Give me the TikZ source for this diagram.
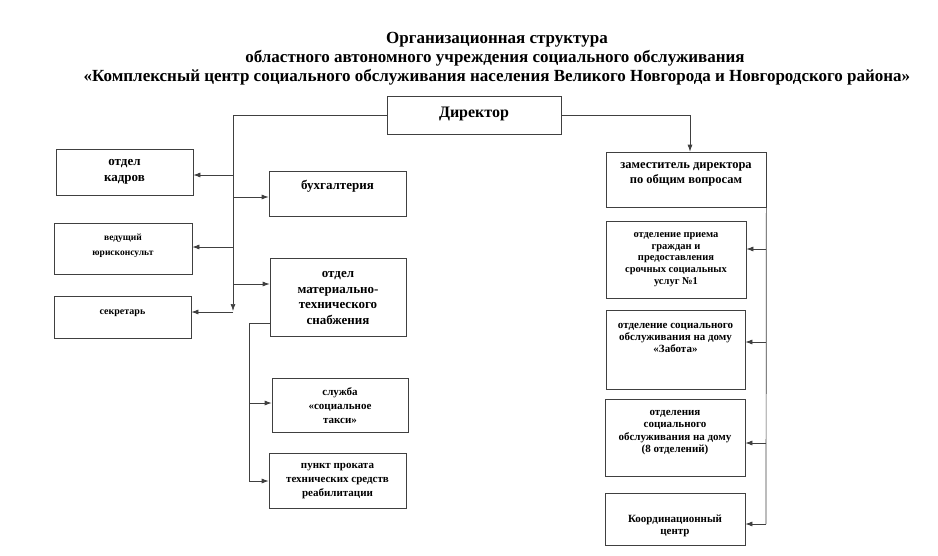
\documentclass[tikz,border=0pt]{standalone}
\usepackage{fontspec}
\setmainfont{Liberation Serif}
\usepackage{tikz}
\usetikzlibrary{calc,arrows.meta}
\tikzset{
    box/.style 2 args={draw=black!75,line width=0.7pt,minimum width=#1pt,minimum height=#2pt,inner sep=0pt},
    ttl/.style={font=\fontsize{17}{20}\selectfont\bfseries},
    big/.style={align=center,font=\fontsize{13}{15.5}\selectfont\bfseries},
    mid/.style={align=center,font=\fontsize{11}{14}\selectfont\bfseries},
    sml/.style={align=center,font=\fontsize{10}{12}\selectfont\bfseries},
    link/.style={draw=black!75,line width=0.7pt},
    arr/.style={link,-{Latex[length=7pt,width=5pt]}}
}

\begin{document}
\begin{tikzpicture}[x=1pt,y=-1pt]
        \useasboundingbox (0,0) rectangle (938,555);

        %%% TITLE %%%
        \node[ttl] (ttla) at (497,40) {Организационная структура};
        \node[ttl] (ttlb) at (495,58) {областного автономного учреждения социального обслуживания};
        \node[ttl] (ttlc) at (497,77) {«Комплексный центр социального обслуживания населения Великого Новгорода и Новгородского района»};

        %%% BOXES %%%
        \node[box={174}{38},label={[big,font=\fontsize{16}{18}\selectfont\bfseries,yshift=1pt]center:Директор}] (dir) at (474,115) {};
        \node[box={137}{46},label={[big]center:отдел\\кадров}] (kadr) at (124.5,172) {};
        \node[box={138}{51},label={[sml,font=\fontsize{9.5}{15}\selectfont\bfseries,yshift=3pt]center:ведущий\\юрисконсульт}] (jur) at (123,248.5) {};
        \node[box={137}{42},label={[sml,yshift=4pt]center:секретарь}] (sekr) at (122.5,317) {};
        \node[box={137}{45},label={[big,yshift=7.5pt]center:бухгалтерия}] (buh) at (337.5,193.5) {};
        \node[box={136}{78},label={[big,yshift=-1pt]center:отдел\\материально-\\технического\\снабжения}] (mts) at (338,297) {};
        \node[box={136}{54},label={[mid,yshift=-1pt]center:служба\\«социальное\\такси»}] (taxi) at (340,405) {};
        \node[box={137}{55},label={[mid,yshift=-1pt]center:пункт проката\\технических средств\\реабилитации}] (prok) at (337.5,480.5) {};
        \node[box={160}{55},label={[big,font=\fontsize{12.5}{15}\selectfont\bfseries,yshift=5pt]center:заместитель директора\\по общим вопросам}] (zam) at (686,179.5) {};
        \node[box={140}{77},label={[sml,font=\fontsize{10.5}{11.7}\selectfont\bfseries]center:отделение приема\\граждан и\\предоставления\\срочных социальных\\услуг №1}] (priem) at (676,259.5) {};
        \node[box={139}{79},label={[sml,font=\fontsize{11}{12}\selectfont\bfseries,yshift=12pt]center:отделение социального\\обслуживания на дому\\«Забота»}] (zab) at (675.5,349.5) {};
        \node[box={140}{77},label={[sml,font=\fontsize{11}{12.3}\selectfont\bfseries,yshift=5pt]center:отделения\\социального\\обслуживания на дому\\(8 отделений)}] (otd) at (675,437.5) {};
        \node[box={140}{52},label={[sml,font=\fontsize{11}{12}\selectfont\bfseries,yshift=-7pt]center:Координационный\\центр}] (koord) at (675,519) {};

        %%% LEFT TRUNK %%%
        \coordinate (lt) at (233,115);
        \coordinate (lb) at (233,311);
        \draw[arr] (dir.west) -- (lt) -- (lb);
        \foreach \yy/\tgt in {175/kadr,247/jur,312/sekr}
            \draw[arr] (233,\yy) -- (233,\yy -| \tgt.east);
        \foreach \yy/\tgt in {197/buh,284/mts}
            \draw[arr] (233,\yy) -- (233,\yy -| \tgt.west);

        %%% SUPPLY BRANCH %%%
        \coordinate (mt) at (249,323);
        \coordinate (mb) at (249,481);
        \draw[link] (mt -| mts.west) -- (mt) -- (mb);
        \draw[arr] (mb) -- (mb -| prok.west);
        \draw[arr] (249,403) -- (249,403 -| taxi.west);

        %%% RIGHT SIDE %%%
        \coordinate (rt) at (690,115);
        \draw[arr] (dir.east) -- (rt) -- (zam.north -| rt);
        \coordinate (rb) at (766,524);
        \draw[link] (zam.south east) -- (rb);
        \foreach \yy/\tgt in {249/priem,342/zab,443/otd,524/koord}
            \draw[arr] (766,\yy) -- (766,\yy -| \tgt.east);
\end{tikzpicture}
\end{document}
